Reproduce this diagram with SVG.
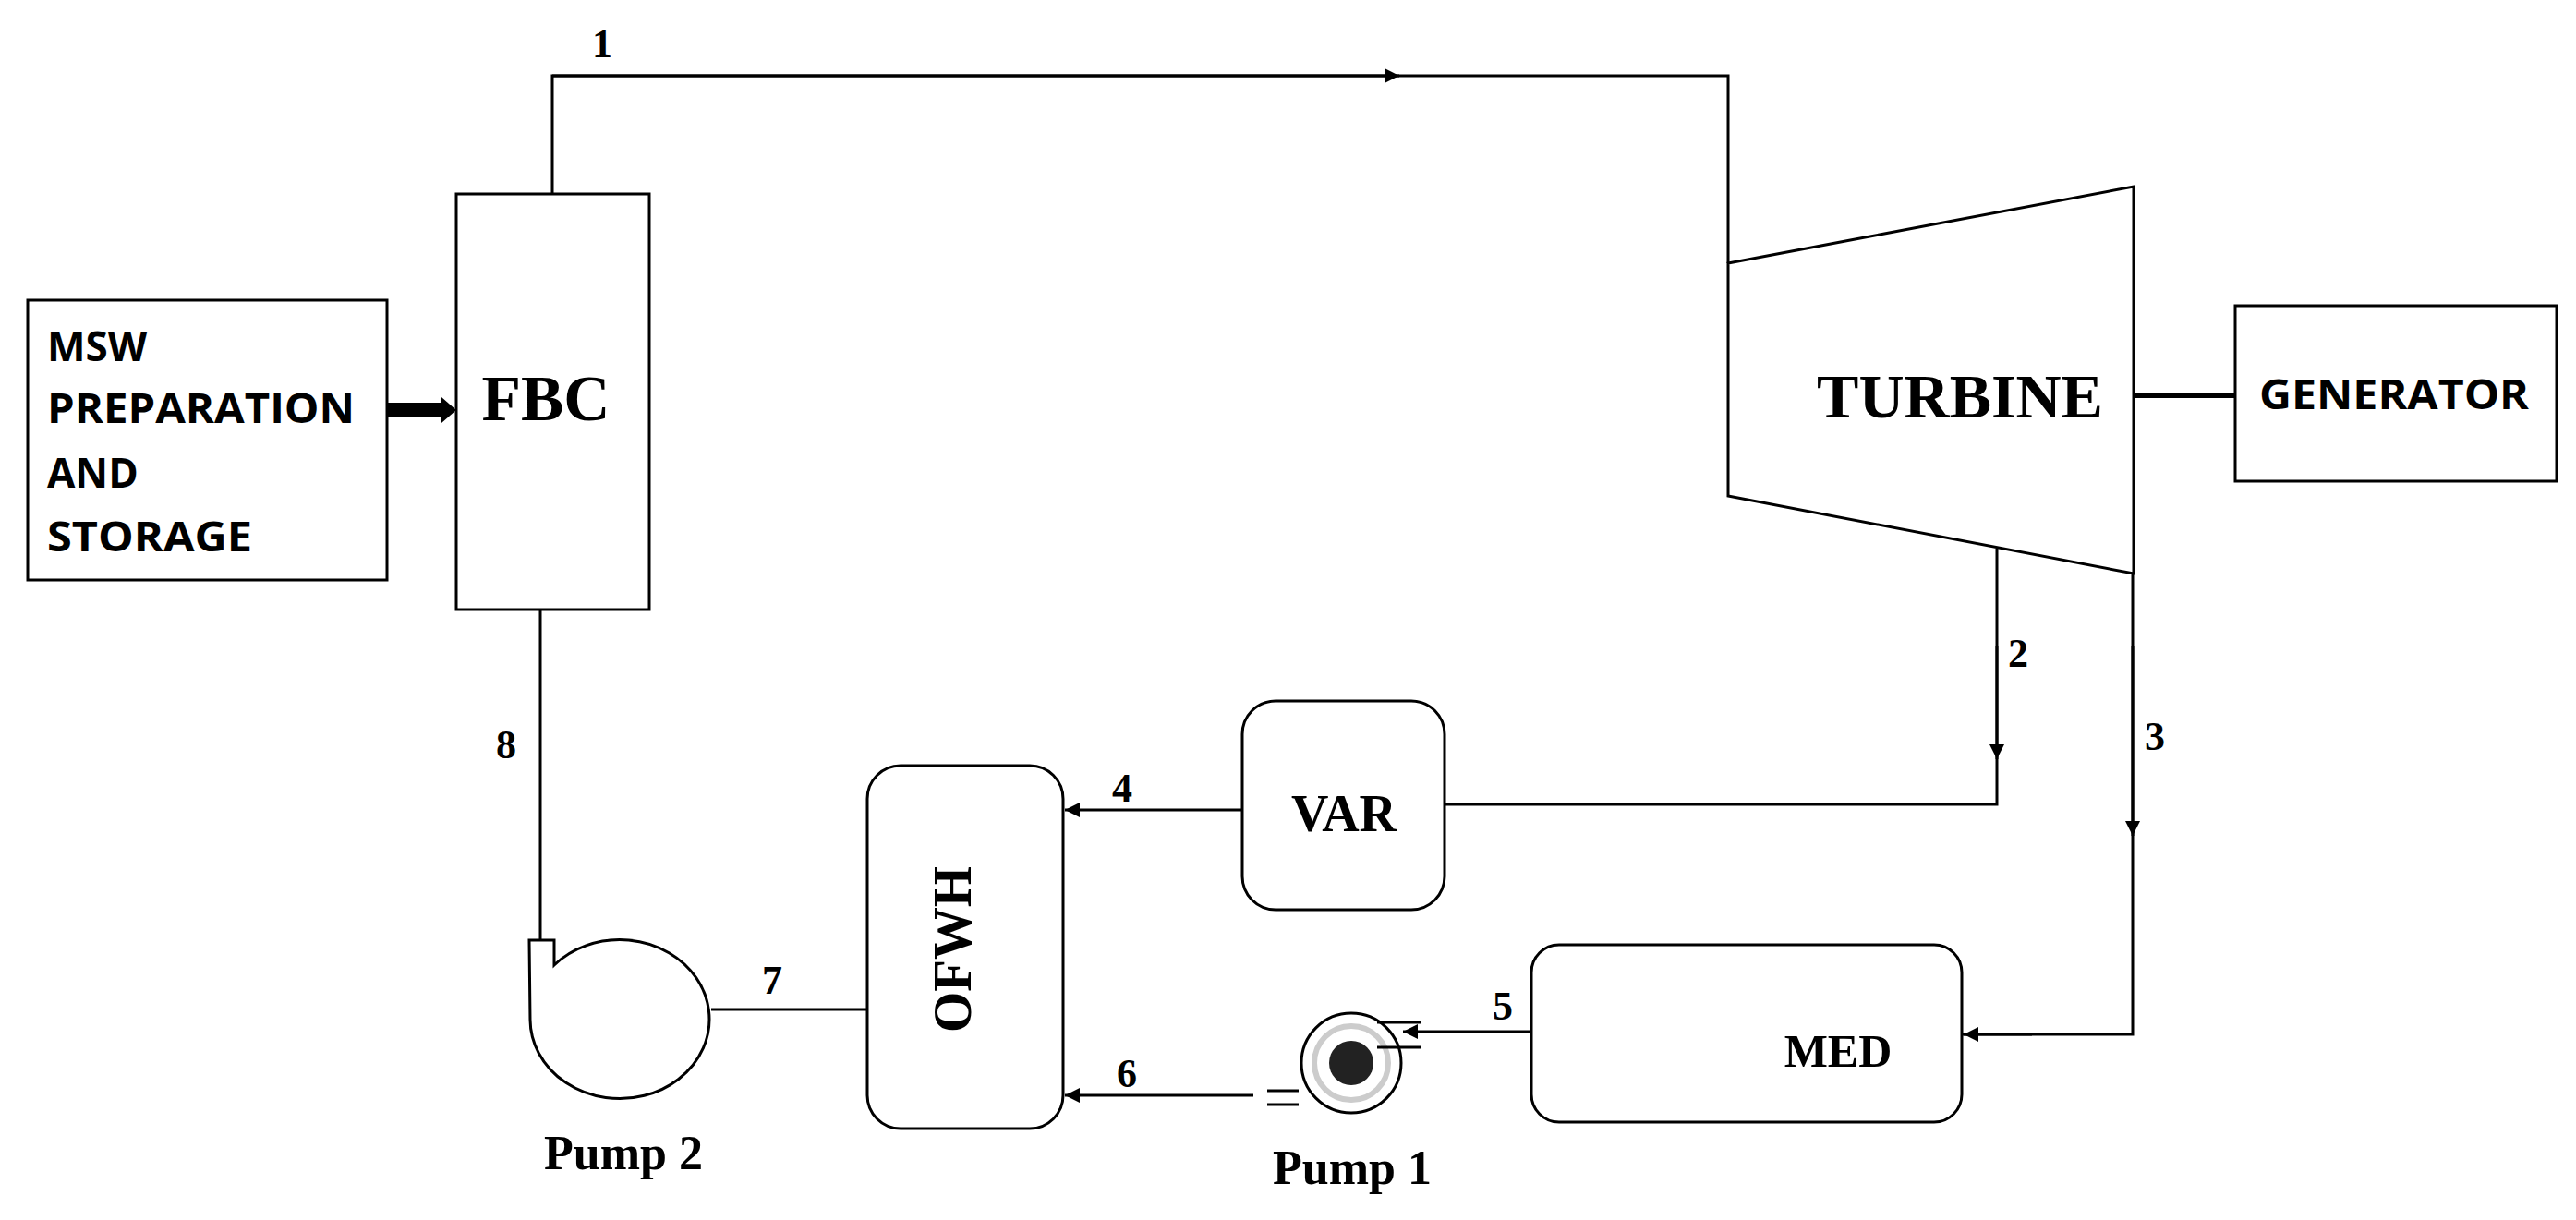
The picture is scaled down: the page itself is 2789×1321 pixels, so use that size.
<svg xmlns="http://www.w3.org/2000/svg" width="2789" height="1321" viewBox="0 0 2789 1321">
<style>
.s{fill:none;stroke:#000;stroke-width:3}
.b{fill:#fff;stroke:#000;stroke-width:3}
.t{font-family:"Liberation Serif",serif;font-weight:bold;fill:#000}
.a{font-family:"Open Sans","Liberation Sans",sans-serif;font-weight:bold;fill:#000}
</style>
<defs>
<marker id="ar" viewBox="0 0 10 10" refX="10" refY="5" markerWidth="16" markerHeight="16" markerUnits="userSpaceOnUse" orient="auto"><path d="M0,0 L10,5 L0,10 Z" fill="#000"/></marker>
</defs>
<g id="connectors">
<path class="s" d="M598,210 V82 H1871 V285"/>
<path class="s" d="M598,82 H1515" marker-end="url(#ar)"/>
<path d="M2310,428 H2420" stroke="#000" stroke-width="6"/>
<path d="M419,444 H482" stroke="#000" stroke-width="16"/>
<path d="M478,430 L494,444 L478,458 Z" fill="#000"/>
<path class="s" d="M2162,594 V871 H1564"/>
<path class="s" d="M2162,700 V822" marker-end="url(#ar)"/>
<path class="s" d="M2309,621 V1120 H2124"/>
<path class="s" d="M2309,700 V905" marker-end="url(#ar)"/>
<path class="s" d="M2200,1120 H2126" marker-end="url(#ar)"/>
<path class="s" d="M1345,877 H1153" marker-end="url(#ar)"/>
<path class="s" d="M1658,1117 H1519" marker-end="url(#ar)"/>
<path class="s" d="M1357,1186 H1153" marker-end="url(#ar)"/>
<path class="s" d="M770,1093 H939"/>
<path class="s" d="M585,660 V1018"/>
</g>
<g id="msw"><rect class="b" x="30" y="325" width="389" height="303"/>
<text class="a" font-size="44" x="51" y="391">MSW</text>
<text class="a" font-size="44" x="51" y="458" textLength="333" lengthAdjust="spacingAndGlyphs">PREPARATION</text>
<text class="a" font-size="44" x="51" y="528">AND</text>
<text class="a" font-size="44" x="51" y="597" textLength="222" lengthAdjust="spacingAndGlyphs">STORAGE</text></g>
<g id="fbc"><rect class="b" x="494" y="210" width="209" height="450"/>
<text class="t" font-size="70" x="591" y="455" text-anchor="middle" textLength="139" lengthAdjust="spacingAndGlyphs">FBC</text></g>
<g id="turbine"><path class="b" d="M1871,285 L2310,202 L2310,621 L1871,537 Z"/>
<text class="t" font-size="68" x="1967" y="452" textLength="310" lengthAdjust="spacingAndGlyphs">TURBINE</text></g>
<g id="generator"><rect class="b" x="2420" y="331" width="348" height="190"/>
<text class="a" font-size="44" x="2446" y="443" textLength="292" lengthAdjust="spacingAndGlyphs">GENERATOR</text></g>
<g id="var"><rect class="b" x="1345" y="759" width="219" height="226" rx="36"/>
<text class="t" font-size="56" x="1455" y="900" text-anchor="middle">VAR</text></g>
<g id="ofwh"><rect class="b" x="939" y="829" width="212" height="393" rx="36"/>
<text class="t" font-size="60" transform="translate(1051,1028) rotate(-90)" text-anchor="middle" textLength="180" lengthAdjust="spacingAndGlyphs">OFWH</text></g>
<g id="med"><rect class="b" x="1658" y="1023" width="466" height="192" rx="30"/>
<text class="t" font-size="50" x="1990" y="1155" text-anchor="middle">MED</text></g>
<g id="pump1"><circle cx="1463" cy="1151" r="54" class="b"/>
<circle cx="1463" cy="1151" r="40" fill="none" stroke="#ccc" stroke-width="6"/>
<circle cx="1463" cy="1151" r="24" fill="#222"/>
<path class="s" d="M1491,1107 H1539 M1491,1134 H1539 M1372,1181 H1406 M1372,1196 H1406"/>
<text class="t" font-size="52" x="1464" y="1282" text-anchor="middle">Pump 1</text></g>
<g id="pump2"><path class="b" d="M573,1018 L600,1018 L600,1045 A97,86 0 1 1 574,1104 Z"/>
<text class="t" font-size="52" x="675" y="1266" text-anchor="middle">Pump 2</text></g>
<g id="labels" class="t" font-size="44">
<text x="652" y="62" text-anchor="middle">1</text>
<text x="2185" y="722" text-anchor="middle">2</text>
<text x="2333" y="812" text-anchor="middle">3</text>
<text x="1215" y="868" text-anchor="middle">4</text>
<text x="1627" y="1104" text-anchor="middle">5</text>
<text x="1220" y="1177" text-anchor="middle">6</text>
<text x="836" y="1076" text-anchor="middle">7</text>
<text x="548" y="821" text-anchor="middle">8</text>
</g>
</svg>
